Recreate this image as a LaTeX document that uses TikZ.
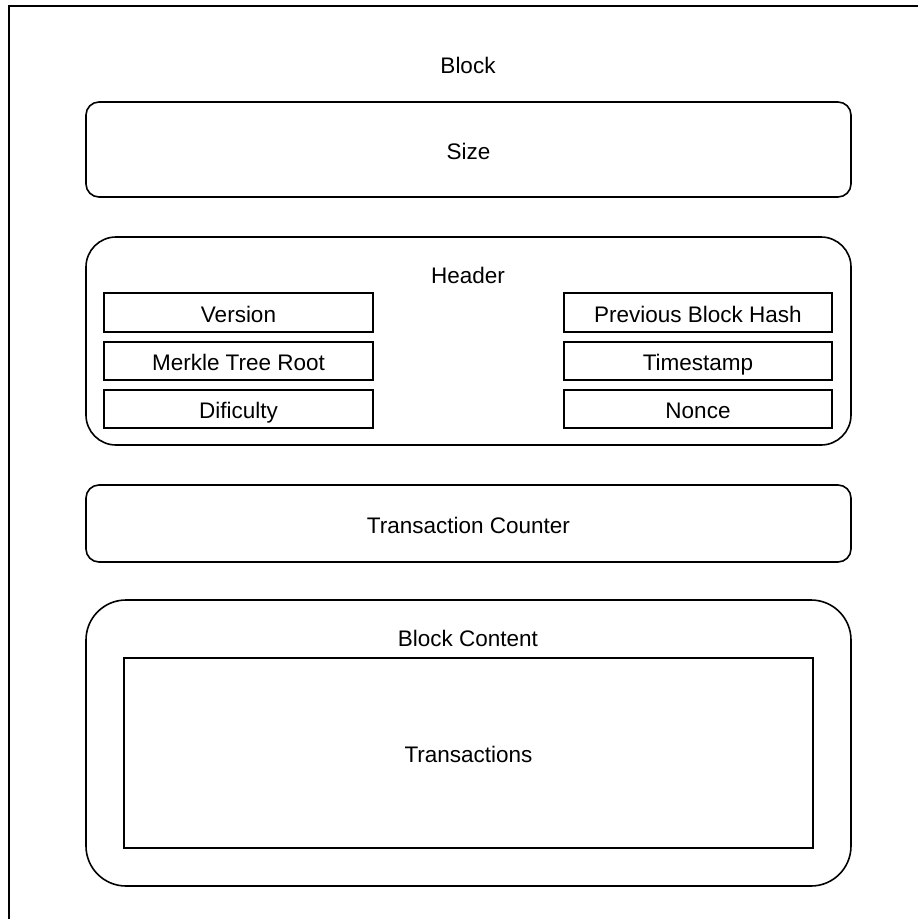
\documentclass[tikz,border=0pt]{standalone}
\usepackage{fontspec}
\setmainfont{Liberation Sans}
\begin{document}
\begin{tikzpicture}[x=1pt,y=-1pt,
  line width=1.6pt,
  every node/.style={font=\fontsize{22.5}{27}\selectfont, text height=19, text depth=0},
  field/.style={draw, rectangle, inner sep=0pt, outer sep=0pt, minimum width=269, minimum height=38.5},
  panel/.style={draw, rectangle, inner sep=0pt, outer sep=0pt, minimum width=765},
  caption/.style={inner sep=0pt}]
\useasboundingbox (0,0) rectangle (918,919);
\clip (0,0) rectangle (918,919);
\fill[white] (0,0) rectangle (918,919);

% outer block frame (runs past the right and bottom edges)
\draw (9,940) -- (9,6) -- (940,6);
\node[caption] (blocklbl) at (468,64) {Block};

% size
\node[panel, minimum height=95, rounded corners=13] (size) at (468.5,149.5) {Size};

% header with its six fields
\node[panel, minimum height=208, rounded corners=30] (header) at (468.5,341) {};
\node[caption] (headerlbl) at (468,273.5) {Header};
\node[field] (version)  at (238.5,312.5) {Version};
\node[field] (merkle)   at (238.5,361)   {Merkle Tree Root};
\node[field] (dific)    at (238.5,409)   {Dificulty};
\node[field, minimum width=268] (prevhash) at (698,312.5) {Previous Block Hash};
\node[field, minimum width=268] (tstamp)   at (698,361)   {Timestamp};
\node[field, minimum width=268] (nonce)    at (698,409)   {Nonce};

% transaction counter
\node[panel, minimum height=77, rounded corners=13] (counter) at (468.5,523.5) {Transaction Counter};

% block content with the transactions area
\node[panel, minimum height=286, rounded corners=40] (content) at (468.5,743) {};
\node[caption] (contentlbl) at (468,637) {Block Content};
\node[draw, rectangle, inner sep=0pt, outer sep=0pt, minimum width=689, minimum height=190] (tx) at (468.5,753) {Transactions};
\end{tikzpicture}
\end{document}
